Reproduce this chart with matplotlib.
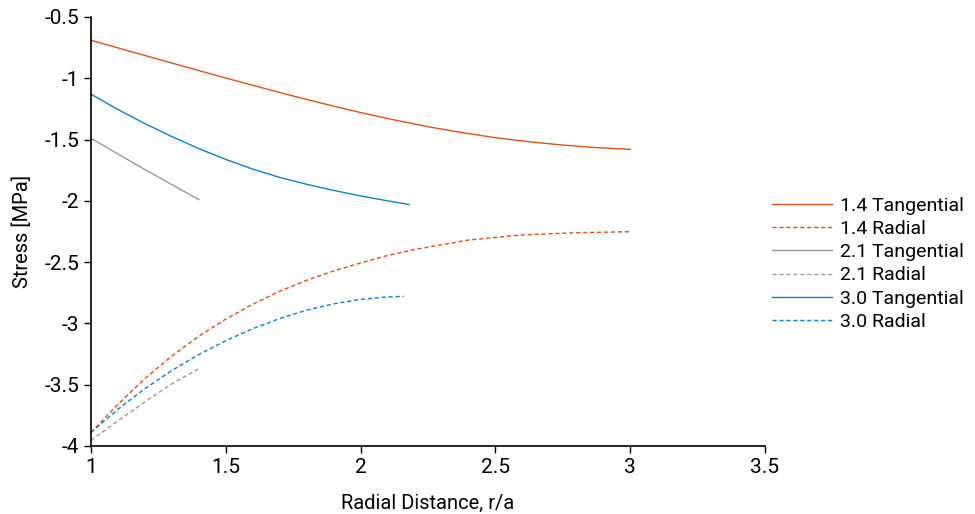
import numpy as np
import matplotlib
matplotlib.use("Agg")
import matplotlib.pyplot as plt
from matplotlib.ticker import FormatStrFormatter

plt.rcParams['font.family'] = ['Roboto', 'DejaVu Sans']
plt.rcParams['axes.unicode_minus'] = False

# values
r_t14 = [1.0, 1.125, 1.25, 1.375, 1.5, 1.625, 1.75, 1.875, 2.0, 2.125, 2.25,
         2.375, 2.5, 2.625, 2.75, 2.875, 3.0]
s_t14 = [-0.69, -0.768, -0.845, -0.922, -0.998, -1.072, -1.145, -1.214, -1.28, -1.34,
         -1.395, -1.443, -1.485, -1.518, -1.545, -1.566, -1.58]

r_r14 = [1.0, 1.1, 1.2, 1.3, 1.4, 1.5, 1.6, 1.7, 1.8, 1.9, 2.0, 2.1, 2.2, 2.4,
         2.6, 2.8, 3.0]
s_r14 = [-3.89, -3.66, -3.45, -3.265, -3.105, -2.965, -2.843, -2.738, -2.648, -2.572,
         -2.507, -2.446, -2.397, -2.32, -2.278, -2.26, -2.252]

r_t21 = [1.0, 1.2, 1.4]
s_t21 = [-1.49, -1.745, -1.99]

r_r21 = [1.0, 1.1, 1.2, 1.3, 1.4]
s_r21 = [-3.955, -3.795, -3.64, -3.492, -3.37]

r_t30 = [1.0, 1.1, 1.2, 1.3, 1.4, 1.5, 1.6, 1.7, 1.8, 1.9, 2.0, 2.1, 2.18]
s_t30 = [-1.13, -1.255, -1.37, -1.476, -1.574, -1.662, -1.741, -1.809, -1.865, -1.915,
         -1.96, -2.0, -2.03]

r_r30 = [1.0, 1.1, 1.2, 1.3, 1.4, 1.5, 1.6, 1.7, 1.8, 1.9, 2.0, 2.1, 2.16]
s_r30 = [-3.89, -3.70, -3.532, -3.384, -3.254, -3.141, -3.043, -2.96, -2.892, -2.84,
         -2.804, -2.784, -2.779]

orange = '#D95319'
gray = '#999999'
blue = '#0A84C0'
dash = (0, (3, 2))

fig = plt.figure(figsize=(9.75, 5.14), dpi=100)
ax = fig.add_axes([0.0933, 0.1323, 0.6913, 0.8347])

ax.plot(r_t14, s_t14, color=orange, lw=1.0, label='1.4 Tangential')
ax.plot(r_r14, s_r14, color=orange, lw=1.0, ls=dash, label='1.4 Radial')
ax.plot(r_t21, s_t21, color=gray, lw=1.0, label='2.1 Tangential')
ax.plot(r_r21, s_r21, color=gray, lw=1.0, ls=dash, label='2.1 Radial')
ax.plot(r_t30, s_t30, color=blue, lw=1.0, label='3.0 Tangential')
ax.plot(r_r30, s_r30, color=blue, lw=1.0, ls=dash, label='3.0 Radial')

ax.set_xlim(1, 3.5)
ax.set_ylim(-4, -0.5)
ax.set_xticks(np.arange(1, 3.51, 0.5))
ax.set_yticks(np.arange(-4, -0.49, 0.5))
ax.xaxis.set_major_formatter(FormatStrFormatter('%g'))
ax.yaxis.set_major_formatter(FormatStrFormatter('%g'))
ax.tick_params(direction='out', length=5, width=1, labelsize=15, color='black')
ax.spines['top'].set_visible(False)
ax.spines['right'].set_visible(False)
for s in ['left', 'bottom']:
    ax.spines[s].set_linewidth(1.2)

ax.set_xlabel('Radial Distance, r/a', fontsize=14.5, labelpad=12)
ax.set_ylabel('Stress [MPa]', fontsize=14.5, labelpad=9)

ax.legend(loc='center left', bbox_to_anchor=(0.792, 0.487), bbox_transform=fig.transFigure,
          frameon=False, fontsize=14, handlelength=3.1, handletextpad=0.4,
          labelspacing=0.27, borderaxespad=0, borderpad=0)

fig.savefig('out.png', dpi=100)
